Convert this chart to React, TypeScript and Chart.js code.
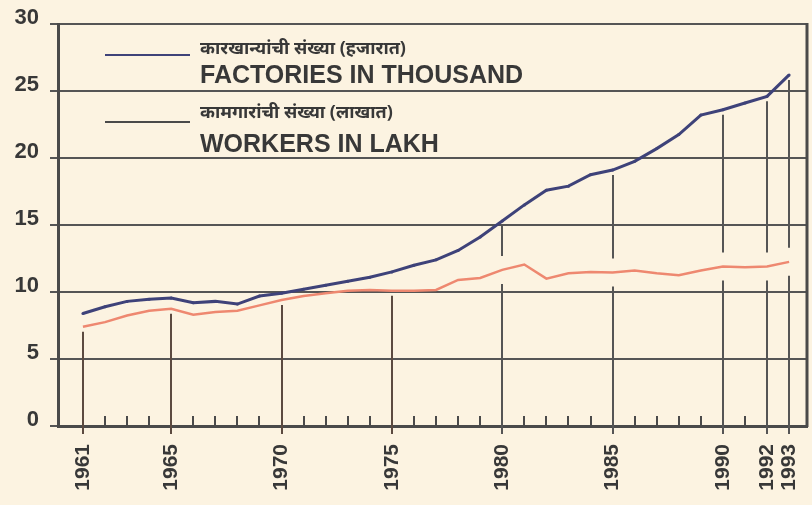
import React, { useEffect, useRef } from "react";
import { Chart, registerables } from "chart.js";

Chart.register(...registerables);

const years = [
  1961, 1962, 1963, 1964, 1965, 1966, 1967, 1968, 1969, 1970, 1971,
  1972, 1973, 1974, 1975, 1976, 1977, 1978, 1979, 1980, 1981, 1982,
  1983, 1984, 1985, 1986, 1987, 1988, 1989, 1990, 1991, 1992, 1993,
];
const factories = [
  8.4, 8.9, 9.3, 9.45, 9.55, 9.2, 9.3, 9.1, 9.7, 9.9, 10.2,
  10.5, 10.8, 11.1, 11.5, 12.0, 12.4, 13.1, 14.1, 15.3, 16.5, 17.6,
  17.9, 18.75, 19.1, 19.75, 20.7, 21.75, 23.2, 23.6, 24.1, 24.6, 26.2,
];
const workers = [
  7.4, 7.75, 8.25, 8.6, 8.75, 8.3, 8.5, 8.6, 9.0, 9.4, 9.7,
  9.9, 10.1, 10.15, 10.1, 10.1, 10.15, 10.9, 11.05, 11.65, 12.05, 11.0,
  11.4, 11.5, 11.45, 11.6, 11.4, 11.25, 11.6, 11.9, 11.85, 11.9, 12.25,
];
const labeledYears = [1961, 1965, 1970, 1975, 1980, 1985, 1990, 1992, 1993];
const yTickValues = [0, 5, 10, 15, 20, 25, 30];
const legendHindi = ["कारखान्यांची संख्या (हजारात)", "कामगारांची संख्या (लाखात)"];
const legendEnglish = ["FACTORIES IN THOUSAND", "WORKERS IN LAKH"];
// from this year on, the drop lines reach up to the factories line
const dropToFactoriesFrom = 1980;

const BG = "#fcf3e1";
const INK = "#4a4a4a";
const TEXT = "#383838";
const BLUE = "#3e4279";
const ORANGE = "#ee8870";
const FONT = "'Liberation Sans', Arial, sans-serif";

const framePlugin = {
  id: "frameAndLegend",
  beforeDraw(chart: any) {
    const { ctx, width, height } = chart;
    ctx.save();
    ctx.fillStyle = BG;
    ctx.fillRect(0, 0, width, height);
    ctx.restore();
  },
  beforeDatasetsDraw(chart: any) {
    const { ctx, chartArea: a, scales } = chart;
    const x = scales.x;
    const y = scales.y;
    ctx.save();
    ctx.lineCap = "butt";
    // right frame
    ctx.strokeStyle = INK;
    ctx.lineWidth = 3;
    ctx.beginPath();
    ctx.moveTo(a.right, a.top - 1);
    ctx.lineTo(a.right, a.bottom + 1);
    ctx.stroke();

    ctx.lineWidth = 2;
    years.forEach((yr, i) => {
      const px = Math.round(x.getPixelForValue(yr));
      if (labeledYears.includes(yr)) {
        const toFactories = yr >= dropToFactoriesFrom;
        const topPx = y.getPixelForValue(toFactories ? factories[i] : workers[i]) + 5;
        const bottomPx = a.bottom + 8;
        const segs: [number, number][] = [];
        if (toFactories) {
          const oy = y.getPixelForValue(workers[i]);
          segs.push([topPx, oy - 14]);
          segs.push([oy + 14, bottomPx]);
        } else {
          segs.push([topPx, bottomPx]);
        }
        ctx.strokeStyle = toFactories ? "#555555" : "#5c4a40";
        segs.forEach(([s, e]) => {
          if (e > s) {
            ctx.beginPath();
            ctx.moveTo(px, s);
            ctx.lineTo(px, e);
            ctx.stroke();
          }
        });
      } else {
        ctx.strokeStyle = INK;
        ctx.beginPath();
        ctx.moveTo(px, a.bottom);
        ctx.lineTo(px, a.bottom - 10);
        ctx.stroke();
      }
    });
    ctx.restore();
  },
  afterDraw(chart: any) {
    const { ctx } = chart;
    ctx.save();
    const colors = [BLUE, "#4a4a4a"];
    const lineY = [55, 122];
    const hindiY = [54, 118];
    const engY = [83, 152];
    for (let k = 0; k < 2; k++) {
      ctx.strokeStyle = colors[k];
      ctx.lineWidth = 2;
      ctx.beginPath();
      ctx.moveTo(105, lineY[k]);
      ctx.lineTo(190, lineY[k]);
      ctx.stroke();
      ctx.fillStyle = TEXT;
      ctx.textBaseline = "alphabetic";
      ctx.textAlign = "left";
      ctx.font = `bold 18px 'Noto Sans', sans-serif`;
      ctx.fillText(legendHindi[k], 200, hindiY[k]);
      ctx.font = `bold 25px ${FONT}`;
      ctx.fillText(legendEnglish[k], 200, engY[k]);
    }
    ctx.restore();
  },
};

export default function App() {
  const ref = useRef<HTMLCanvasElement | null>(null);
  useEffect(() => {
    document.body.style.margin = "0";
    document.body.style.background = BG;
    const canvas = ref.current!;
    const chart = new Chart(canvas, {
      type: "line",
      data: {
        datasets: [
          {
            label: legendEnglish[1],
            data: years.map((yr, i) => ({ x: yr, y: workers[i] })),
            borderColor: ORANGE,
            borderWidth: 2.5,
            pointRadius: 0,
            tension: 0,
          },
          {
            label: legendEnglish[0],
            data: years.map((yr, i) => ({ x: yr, y: factories[i] })),
            borderColor: BLUE,
            borderWidth: 3,
            pointRadius: 1.5,
            pointBackgroundColor: BLUE,
            pointBorderWidth: 0,
            tension: 0,
          },
        ],
      },
      options: {
        responsive: false,
        animation: false,
        devicePixelRatio: 1,
        layout: { padding: { top: 24, right: 5, left: 0, bottom: 0 } },
        plugins: {
          legend: { display: false },
          tooltip: { enabled: false },
        },
        scales: {
          x: {
            type: "linear",
            min: 1959.87,
            max: 1993.81,
            afterBuildTicks: (scale: any) => {
              scale.ticks = labeledYears.map((v) => ({ value: v }));
            },
            afterFit: (scale: any) => {
              scale.height = 79;
              scale.paddingLeft = 0;
              scale.paddingRight = 0;
            },
            grid: { display: false, drawTicks: false },
            border: { display: true, width: 3, color: INK },
            ticks: {
              autoSkip: false,
              minRotation: 90,
              maxRotation: 90,
              padding: 18,
              color: TEXT,
              font: { family: FONT, size: 21, weight: "bold" },
              callback: (v: any) => String(v),
            },
          },
          y: {
            min: 0,
            max: 30,
            afterBuildTicks: (scale: any) => {
              scale.ticks = yTickValues.map((v) => ({ value: v }));
            },
            afterFit: (scale: any) => {
              scale.width = 58;
              scale.paddingTop = 0;
              scale.paddingBottom = 0;
            },
            grid: {
              color: "#555555",
              lineWidth: 2,
              tickLength: 8,
              drawTicks: true,
            },
            border: { display: true, width: 3, color: INK },
            ticks: {
              padding: 11,
              labelOffset: -6,
              color: TEXT,
              font: { family: FONT, size: 22, weight: "bold" },
            },
          },
        },
      },
      plugins: [framePlugin],
    } as any);
    return () => chart.destroy();
  }, []);
  return (
    <div style={{ position: "absolute", left: 0, top: 0, width: 812, height: 505, background: BG }}>
      <canvas ref={ref} width={812} height={505} style={{ display: "block" }} />
    </div>
  );
}
